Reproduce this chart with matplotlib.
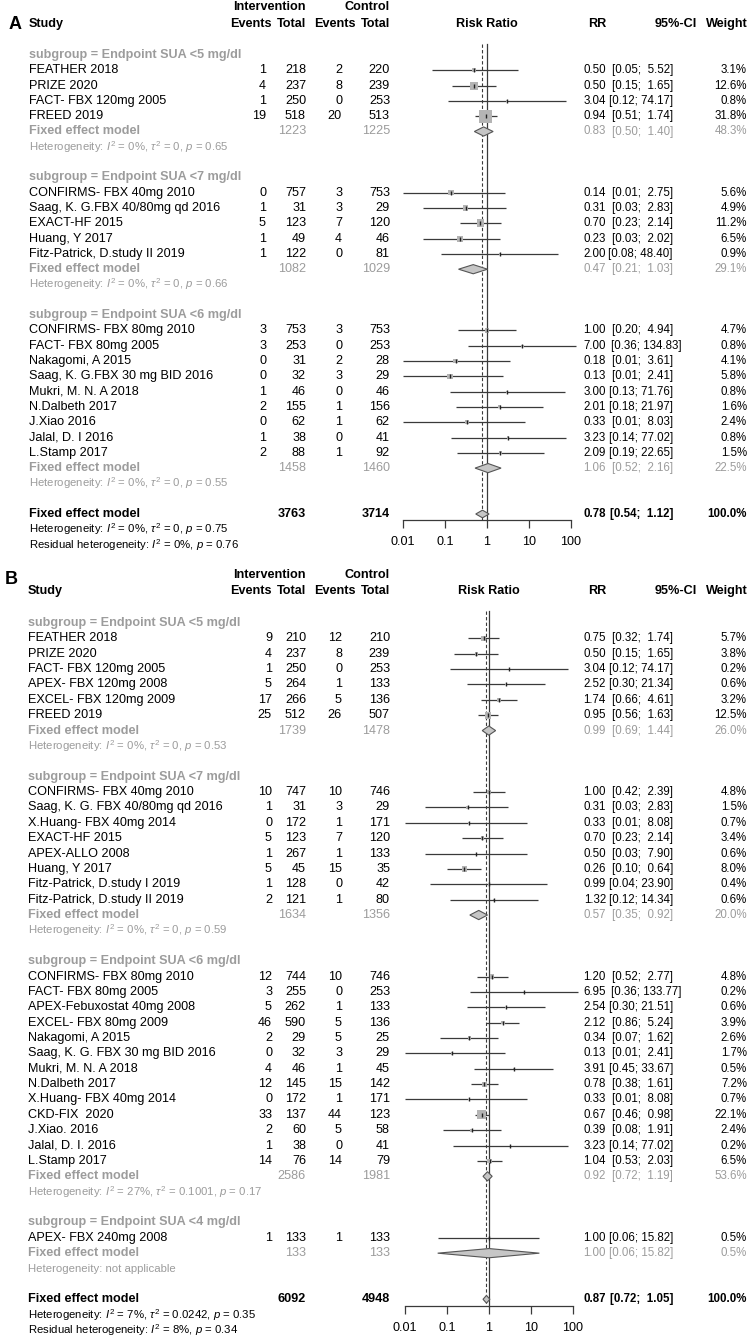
import numpy as np
import matplotlib
matplotlib.use("Agg")
import matplotlib.pyplot as plt
from matplotlib.transforms import blended_transform_factory
from matplotlib.patches import Polygon
from matplotlib.ticker import FixedLocator, FixedFormatter, NullLocator

# ------------------------------------------------------------------ data: panel A
A_groups = ["subgroup = Endpoint SUA <5 mg/dl", "subgroup = Endpoint SUA <7 mg/dl",
            "subgroup = Endpoint SUA <6 mg/dl"]
A_study = ["FEATHER 2018", "PRIZE 2020", "FACT- FBX 120mg 2005", "FREED 2019",
           "CONFIRMS- FBX 40mg 2010", "Saag, K. G.FBX 40/80mg qd 2016", "EXACT-HF 2015",
           "Huang, Y 2017", "Fitz-Patrick, D.study II 2019",
           "CONFIRMS- FBX 80mg 2010", "FACT- FBX 80mg 2005", "Nakagomi, A 2015",
           "Saag, K. G.FBX 30 mg BID 2016", "Mukri, M. N. A 2018", "N.Dalbeth 2017",
           "J.Xiao 2016", "Jalal, D. I 2016", "L.Stamp 2017"]
A_group_of = [0, 0, 0, 0, 1, 1, 1, 1, 1, 2, 2, 2, 2, 2, 2, 2, 2, 2]
A_ev_int = [1, 4, 1, 19, 0, 1, 5, 1, 1, 3, 3, 0, 0, 1, 2, 0, 1, 2]
A_n_int = [218, 237, 250, 518, 757, 31, 123, 49, 122, 753, 253, 31, 32, 46, 155, 62, 38, 88]
A_ev_ctl = [2, 8, 0, 20, 3, 3, 7, 4, 0, 3, 0, 2, 3, 0, 1, 1, 0, 1]
A_n_ctl = [220, 239, 253, 513, 753, 29, 120, 46, 81, 753, 253, 28, 29, 46, 156, 62, 41, 92]
A_rr = [0.50, 0.50, 3.04, 0.94, 0.14, 0.31, 0.70, 0.23, 2.00, 1.00, 7.00, 0.18, 0.13, 3.00,
        2.01, 0.33, 3.23, 2.09]
A_lo = [0.05, 0.15, 0.12, 0.51, 0.01, 0.03, 0.23, 0.03, 0.08, 0.20, 0.36, 0.01, 0.01, 0.13,
        0.18, 0.01, 0.14, 0.19]
A_hi = [5.52, 1.65, 74.17, 1.74, 2.75, 2.83, 2.14, 2.02, 48.40, 4.94, 134.83, 3.61, 2.41,
        71.76, 21.97, 8.03, 77.02, 22.65]
A_wt = [3.1, 12.6, 0.8, 31.8, 5.6, 4.9, 11.2, 6.5, 0.9, 4.7, 0.8, 4.1, 5.8, 0.8, 1.6, 2.4,
        0.8, 1.5]
A_sub_n_int = [1223, 1082, 1458]
A_sub_n_ctl = [1225, 1029, 1460]
A_sub_rr = [0.83, 0.47, 1.06]
A_sub_lo = [0.50, 0.21, 0.52]
A_sub_hi = [1.40, 1.03, 2.16]
A_sub_wt = [48.3, 29.1, 22.5]
A_sub_het = [r"Heterogeneity: $I^2$ = 0%, $\tau^2$ = 0, $p$ = 0.65",
             r"Heterogeneity: $I^2$ = 0%, $\tau^2$ = 0, $p$ = 0.66",
             r"Heterogeneity: $I^2$ = 0%, $\tau^2$ = 0, $p$ = 0.55"]
A_tot_n = [3763, 3714]
A_tot_rr = [0.78, 0.54, 1.12]
A_tot_het = r"Heterogeneity: $I^2$ = 0%, $\tau^2$ = 0, $p$ = 0.75"
A_resid = r"Residual heterogeneity: $I^2$ = 0%, $p$ = 0.76"

# ------------------------------------------------------------------ data: panel B
B_groups = ["subgroup = Endpoint SUA <5 mg/dl", "subgroup = Endpoint SUA <7 mg/dl",
            "subgroup = Endpoint SUA <6 mg/dl", "subgroup = Endpoint SUA <4 mg/dl"]
B_study = ["FEATHER 2018", "PRIZE 2020", "FACT- FBX 120mg 2005", "APEX- FBX 120mg 2008",
           "EXCEL- FBX 120mg 2009", "FREED 2019",
           "CONFIRMS- FBX 40mg 2010", "Saag, K. G. FBX 40/80mg qd 2016",
           "X.Huang- FBX 40mg 2014", "EXACT-HF 2015", "APEX-ALLO 2008", "Huang, Y 2017",
           "Fitz-Patrick, D.study I 2019", "Fitz-Patrick, D.study II 2019",
           "CONFIRMS- FBX 80mg 2010", "FACT- FBX 80mg 2005", "APEX-Febuxostat 40mg 2008",
           "EXCEL- FBX 80mg 2009", "Nakagomi, A 2015", "Saag, K. G. FBX 30 mg BID 2016",
           "Mukri, M. N. A 2018", "N.Dalbeth 2017", "X.Huang- FBX 40mg 2014",
           "CKD-FIX  2020", "J.Xiao. 2016", "Jalal, D. I. 2016", "L.Stamp 2017",
           "APEX- FBX 240mg 2008"]
B_group_of = [0] * 6 + [1] * 8 + [2] * 13 + [3]
B_ev_int = [9, 4, 1, 5, 17, 25, 10, 1, 0, 5, 1, 5, 1, 2, 12, 3, 5, 46, 2, 0, 4, 12, 0, 33,
            2, 1, 14, 1]
B_n_int = [210, 237, 250, 264, 266, 512, 747, 31, 172, 123, 267, 45, 128, 121, 744, 255,
           262, 590, 29, 32, 46, 145, 172, 137, 60, 38, 76, 133]
B_ev_ctl = [12, 8, 0, 1, 5, 26, 10, 3, 1, 7, 1, 15, 0, 1, 10, 0, 1, 5, 5, 3, 1, 15, 1, 44,
            5, 0, 14, 1]
B_n_ctl = [210, 239, 253, 133, 136, 507, 746, 29, 171, 120, 133, 35, 42, 80, 746, 253, 133,
           136, 25, 29, 45, 142, 171, 123, 58, 41, 79, 133]
B_rr = [0.75, 0.50, 3.04, 2.52, 1.74, 0.95, 1.00, 0.31, 0.33, 0.70, 0.50, 0.26, 0.99, 1.32,
        1.20, 6.95, 2.54, 2.12, 0.34, 0.13, 3.91, 0.78, 0.33, 0.67, 0.39, 3.23, 1.04, 1.00]
B_lo = [0.32, 0.15, 0.12, 0.30, 0.66, 0.56, 0.42, 0.03, 0.01, 0.23, 0.03, 0.10, 0.04, 0.12,
        0.52, 0.36, 0.30, 0.86, 0.07, 0.01, 0.45, 0.38, 0.01, 0.46, 0.08, 0.14, 0.53, 0.06]
B_hi = [1.74, 1.65, 74.17, 21.34, 4.61, 1.63, 2.39, 2.83, 8.08, 2.14, 7.90, 0.64, 23.90,
        14.34, 2.77, 133.77, 21.51, 5.24, 1.62, 2.41, 33.67, 1.61, 8.08, 0.98, 1.91, 77.02,
        2.03, 15.82]
B_wt = [5.7, 3.8, 0.2, 0.6, 3.2, 12.5, 4.8, 1.5, 0.7, 3.4, 0.6, 8.0, 0.4, 0.6, 4.8, 0.2, 0.6,
        3.9, 2.6, 1.7, 0.5, 7.2, 0.7, 22.1, 2.4, 0.2, 6.5, 0.5]
B_sub_n_int = [1739, 1634, 2586, 133]
B_sub_n_ctl = [1478, 1356, 1981, 133]
B_sub_rr = [0.99, 0.57, 0.92, 1.00]
B_sub_lo = [0.69, 0.35, 0.72, 0.06]
B_sub_hi = [1.44, 0.92, 1.19, 15.82]
B_sub_wt = [26.0, 20.0, 53.6, 0.5]
B_sub_het = [r"Heterogeneity: $I^2$ = 0%, $\tau^2$ = 0, $p$ = 0.53",
             r"Heterogeneity: $I^2$ = 0%, $\tau^2$ = 0, $p$ = 0.59",
             r"Heterogeneity: $I^2$ = 27%, $\tau^2$ = 0.1001, $p$ = 0.17",
             "Heterogeneity: not applicable"]
B_tot_n = [6092, 4948]
B_tot_rr = [0.87, 0.72, 1.05]
B_tot_het = r"Heterogeneity: $I^2$ = 7%, $\tau^2$ = 0.0242, $p$ = 0.35"
B_resid = r"Residual heterogeneity: $I^2$ = 8%, $p$ = 0.34"

x_ticks = [0.01, 0.1, 1, 10, 100]
x_tick_labels = ["0.01", "0.1", "1", "10", "100"]
header_cols = ["Events", "Total", "Events", "Total"]

# ------------------------------------------------------------------ style
FONT = "Liberation Sans"
plt.rcParams["font.family"] = [FONT, "DejaVu Sans"]
plt.rcParams["mathtext.fontset"] = "custom"
plt.rcParams["mathtext.rm"] = FONT
plt.rcParams["mathtext.it"] = FONT + ":italic"
plt.rcParams["mathtext.bf"] = FONT + ":bold"

W, H = 750, 1339
FS = 9.1
FS_NUM = 8.3
FS_HET = 8.2
GRAY = "#9c9c9c"
LINE = "#3a3a3a"
SQ = "#b4b4b4"

fig = plt.figure(figsize=(W / 100, H / 100), dpi=100)
fig.patch.set_facecolor("white")


def draw_panel(letter, letter_pos, groups, group_of, study, ev_i, n_i, ev_c, n_c, rr, lo, hi,
               wt, s_ni, s_nc, s_rr, s_lo, s_hi, s_wt, s_het, tot_n, tot_rr, tot_het, resid,
               y0, pitch, top_px, bot_px, x01, x100, name_x, ev_x, sq_k):
    entries = []
    r = 0
    for g in range(len(groups)):
        entries.append(("sub", g, r)); r += 1
        for i in range(len(study)):
            if group_of[i] == g:
                entries.append(("study", i, r)); r += 1
        entries.append(("fixed", g, r)); r += 1
        entries.append(("het", g, r)); r += 1
        r += 1
    overall_row = r

    row_top = (top_px - y0) / pitch
    row_bot = (bot_px - y0) / pitch
    ax = fig.add_axes([x01 / W, 1 - bot_px / H, (x100 - x01) / W, (bot_px - top_px) / H])
    ax.set_xscale("log")
    ax.set_xlim(x_ticks[0], x_ticks[-1])
    ax.set_ylim(row_bot, row_top)
    ax.patch.set_visible(False)
    for s in ["left", "right", "top"]:
        ax.spines[s].set_visible(False)
    axis_row = overall_row + 0.42
    ax.spines["bottom"].set_position(("data", axis_row))
    ax.spines["bottom"].set_color(LINE)
    ax.spines["bottom"].set_linewidth(0.9)
    ax.xaxis.set_major_locator(FixedLocator(x_ticks))
    ax.xaxis.set_major_formatter(FixedFormatter(x_tick_labels))
    ax.xaxis.set_minor_locator(NullLocator())
    ax.tick_params(axis="x", direction="out", length=5.5, width=0.9, color=LINE,
                   labelsize=FS, pad=6.0)
    ax.set_yticks([])

    tr = blended_transform_factory(fig.transFigure, ax.transData)

    def T(px, row, s, ha="left", color="black", weight="normal", size=FS, **kw):
        ax.text(px / W, row, s, transform=tr, ha=ha, va="center", color=color,
                fontweight=weight, fontsize=size, clip_on=False, **kw)

    hdr_top = -3.12
    hdr = -2.05
    T(name_x, hdr, "Study", weight="bold")
    T(306, hdr_top, "Intervention", ha="right", weight="bold")
    T(390, hdr_top, "Control", ha="right", weight="bold")
    for px, lab in zip([272, 306, 356, 390], header_cols):
        T(px, hdr, lab, ha="right", weight="bold")
    T((x01 + x100) / 2, hdr, "Risk Ratio", ha="center", weight="bold")
    T(606, hdr, "RR", ha="right", weight="bold")
    T(697, hdr, "95%-CI", ha="right", weight="bold")
    T(748, hdr, "Weight", ha="right", weight="bold")
    T(letter_pos[0], letter_pos[1], letter, weight="bold", size=13)

    def num(px, row, s, ha="right", color="black", weight="normal"):
        T(px, row, s, ha=ha, color=color, weight=weight, size=FS_NUM)

    def ci_text(row, l, h, color, weight):
        if h >= 100:
            num(611, row, f"[{l:.2f}; {h:.2f}]", ha="left", color=color, weight=weight)
        else:
            pad = " " if h >= 10 else "  "
            num(673, row, f"[{l:.2f};{pad}{h:.2f}]", color=color, weight=weight)

    def diamond(row, est, l, h, hh=0.3):
        ax.add_patch(Polygon([(l, row), (est, row - hh), (h, row), (est, row + hh)],
                             closed=True, facecolor="#c6c6c6", edgecolor="#555555",
                             linewidth=0.8, zorder=4, clip_on=False))

    for kind, k, row in entries:
        if kind == "sub":
            T(name_x, row, groups[k], color=GRAY, weight="bold")
        elif kind == "study":
            T(name_x, row, study[k])
            T(ev_x, row, str(ev_i[k]), ha="right")
            T(306, row, str(n_i[k]), ha="right")
            T(342, row, str(ev_c[k]), ha="right")
            T(390, row, str(n_c[k]), ha="right")
            num(606, row, f"{rr[k]:.2f}")
            ci_text(row, lo[k], hi[k], "black", "normal")
            num(747, row, f"{wt[k]:.1f}%")
            ax.plot([lo[k], hi[k]], [row, row], color=LINE, lw=0.9, zorder=2,
                    clip_on=False, solid_capstyle="butt")
            side_pt = sq_k * np.sqrt(wt[k]) * 0.72
            ax.scatter([rr[k]], [row], s=side_pt ** 2, marker="s", color=SQ,
                       edgecolors="none", zorder=3, clip_on=False)
            ax.plot([rr[k]], [row], marker="|", ms=3.5, mew=1.0, color="#222222",
                    zorder=5, clip_on=False)
        elif kind == "fixed":
            T(name_x, row, "Fixed effect model", color=GRAY, weight="bold")
            T(306, row, str(s_ni[k]), ha="right", color=GRAY)
            T(390, row, str(s_nc[k]), ha="right", color=GRAY)
            num(606, row, f"{s_rr[k]:.2f}", color=GRAY)
            ci_text(row, s_lo[k], s_hi[k], GRAY, "normal")
            num(747, row, f"{s_wt[k]:.1f}%", color=GRAY)
            diamond(row, s_rr[k], s_lo[k], s_hi[k])
        elif kind == "het":
            T(name_x, row, s_het[k], color=GRAY, size=FS_HET)

    r = overall_row
    T(name_x, r, "Fixed effect model", weight="bold")
    T(306, r, str(tot_n[0]), ha="right", weight="bold")
    T(390, r, str(tot_n[1]), ha="right", weight="bold")
    num(606, r, f"{tot_rr[0]:.2f}", weight="bold")
    ci_text(r, tot_rr[1], tot_rr[2], "black", "bold")
    num(747, r, "100.0%", weight="bold")
    diamond(r, tot_rr[0], tot_rr[1], tot_rr[2], hh=0.25)
    T(name_x, r + 1, tot_het, size=FS_HET)
    T(name_x, r + 2, resid, size=FS_HET)

    line_top = -0.75
    ax.plot([1, 1], [line_top, axis_row], color=LINE, lw=0.9, zorder=1, clip_on=False)
    ax.plot([tot_rr[0], tot_rr[0]], [line_top, axis_row], color=LINE, lw=0.8,
            dashes=(3, 2), zorder=1, clip_on=False)
    return ax


draw_panel("A", (9, -2.0), A_groups, A_group_of, A_study, A_ev_int, A_n_int, A_ev_ctl,
           A_n_ctl, A_rr, A_lo, A_hi, A_wt, A_sub_n_int, A_sub_n_ctl, A_sub_rr, A_sub_lo,
           A_sub_hi, A_sub_wt, A_sub_het, A_tot_n, A_tot_rr, A_tot_het, A_resid,
           y0=55, pitch=15.3, top_px=1, bot_px=560, x01=403, x100=571, name_x=29,
           ev_x=266, sq_k=2.3)

draw_panel("B", (5, -2.86), B_groups, B_group_of, B_study, B_ev_int, B_n_int, B_ev_ctl,
           B_n_ctl, B_rr, B_lo, B_hi, B_wt, B_sub_n_int, B_sub_n_ctl, B_sub_rr, B_sub_lo,
           B_sub_hi, B_sub_wt, B_sub_het, B_tot_n, B_tot_rr, B_tot_het, B_resid,
           y0=623, pitch=15.37, top_px=568, bot_px=1339, x01=405, x100=573, name_x=27.5,
           ev_x=272, sq_k=1.9)

fig.savefig("out.png", dpi=100, facecolor="white")
